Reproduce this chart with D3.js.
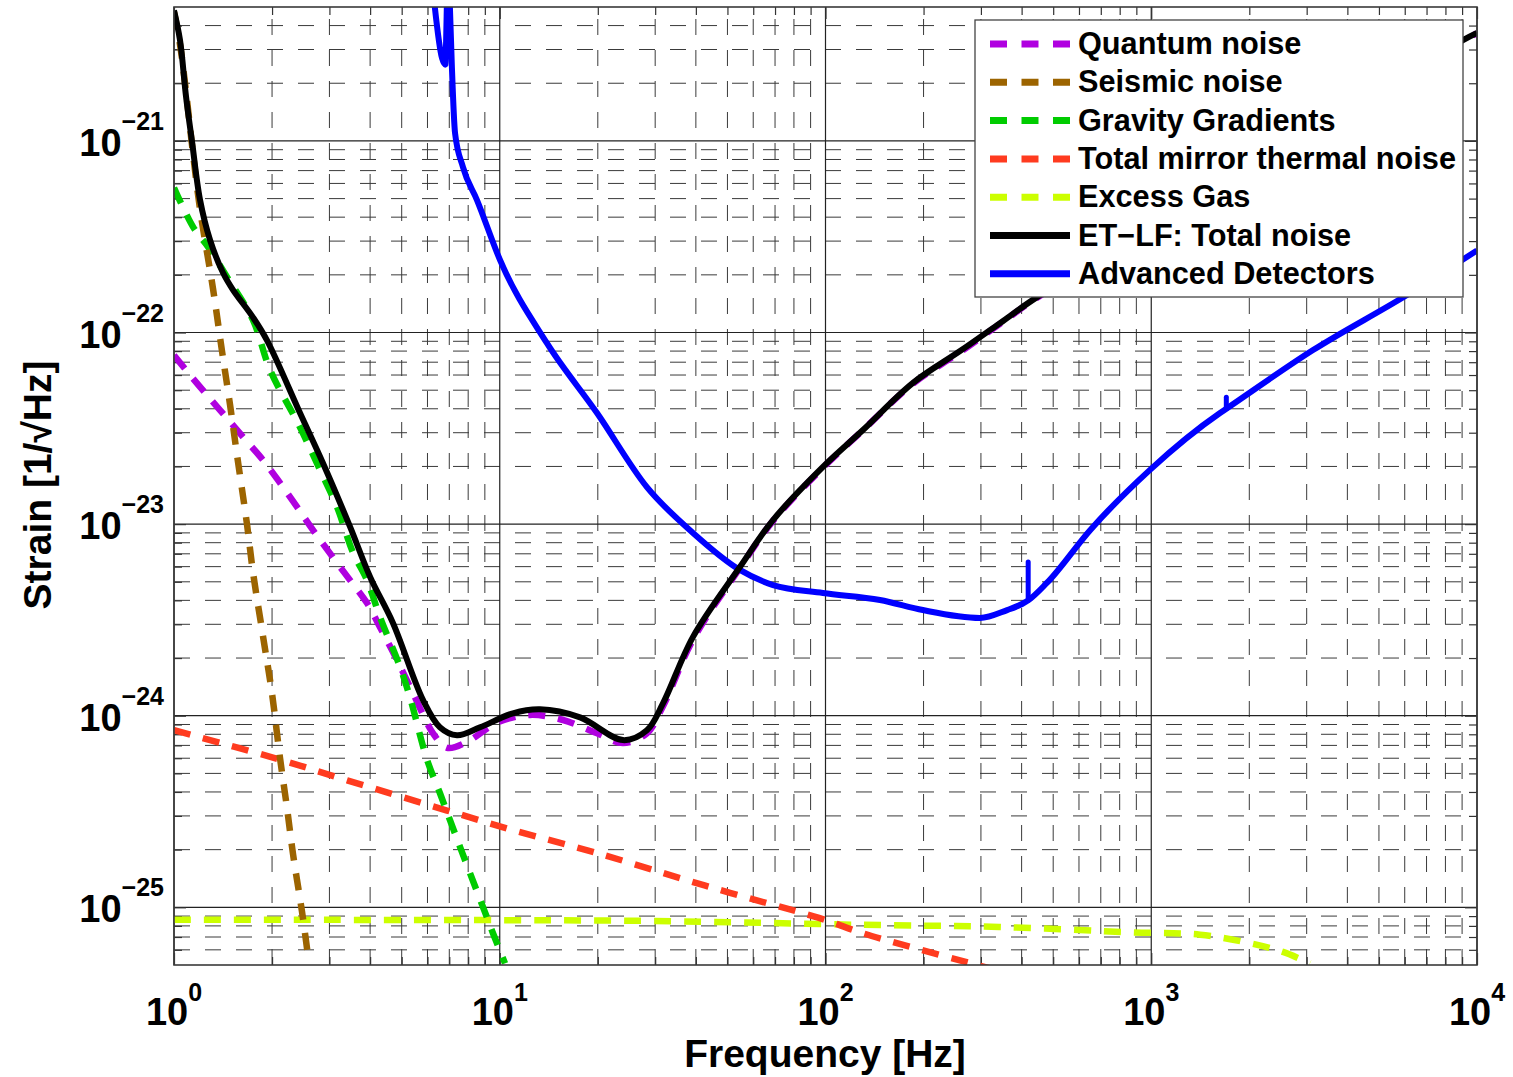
<!DOCTYPE html>
<html><head><meta charset="utf-8">
<script src="https://cdn.jsdelivr.net/npm/d3@7"></script>
<style>
body{margin:0;background:#fff}
svg{display:block}
text{font-family:"Liberation Sans",Arial,Helvetica,sans-serif;font-weight:bold;fill:#000}
</style>
</head><body>
<svg id="c" width="1513" height="1077"></svg>
<script>
// ---------------- DATA ----------------
const xTickValues = [1, 10, 100, 1000, 10000];
const xTickExp = ["0", "1", "2", "3", "4"];
const yTickValues = [1e-25, 1e-24, 1e-23, 1e-22, 1e-21];
const yTickExp = ["\u221225", "\u221224", "\u221223", "\u221222", "\u221221"];

const quantumF = [1.0,1.202,1.384,1.628,1.876,2.116,2.386,2.672,3.077,3.47,3.913,4.29,4.84,5.42,6.24,6.89,7.93,9.81,12.39,15.64,19.89,23.9,28.3,31.7,39.2,54.6,69,98.2,130,186,259,343,446,1000,3162,9060,10000];
const quantumH = [7.6e-23,5.2e-23,3.94e-23,2.85e-23,2.16e-23,1.64e-23,1.23e-23,9.3e-24,6.7e-24,5.1e-24,3.87e-24,2.9e-24,1.95e-24,1.31e-24,8.1e-25,6.8e-25,7.3e-25,9.2e-25,1.01e-24,9.5e-25,8.1e-25,7.2e-25,8.1e-25,1.12e-24,2.5e-24,5.9e-24,1.04e-23,1.97e-23,3.08e-23,5.43e-23,7.9e-23,1.11e-22,1.52e-22,3.5e-22,1.17e-21,3.34e-21,3.64e-21];

const seismicF = [1.0,1.043,1.089,1.136,1.202,1.317,1.404,1.486,1.561,1.675,1.748,1.876,2.0,2.116,2.223,2.319,2.471,2.578];
const seismicH = [4.7e-21,3.2e-21,1.8e-21,9.5e-22,4.4e-22,1.7e-22,8.0e-23,4.2e-23,2.3e-23,1.0e-23,5.6e-24,2.6e-24,1.3e-24,6.0e-25,3.3e-25,1.9e-25,9.5e-26,5.6e-26];

const gravityF = [1.0,1.144,1.272,1.454,1.748,1.971,2.437,2.806,3.165,3.544,3.913,4.29,4.94,5.30,5.98,6.55,7.03,7.55,8.10,8.89,9.54,10.38];
const gravityH = [5.7e-22,3.56e-22,2.8e-22,1.95e-22,1.16e-22,6.4e-23,3.2e-23,1.92e-23,1.23e-23,7.1e-24,5.1e-24,3.27e-24,1.8e-24,1.25e-24,5.9e-25,3.95e-25,2.86e-25,2.07e-25,1.51e-25,1.0e-25,7.3e-26,5.1e-26];

const thermalF = [1,2.116,3.40,6.89,10.98,19.89,35.8,50.9,95.5,131,320];
const thermalH = [8.4e-25,5.9e-25,4.6e-25,3.2e-25,2.53e-25,1.92e-25,1.42e-25,1.19e-25,8.8e-26,7.3e-26,4.8e-26];

const gasF = [1,27,131,341,879,1413,2010,2537,3070];
const gasH = [8.6e-26,8.5e-26,8.1e-26,7.9e-26,7.4e-26,7.2e-26,6.5e-26,5.85e-26,5.1e-26];

const totalF = [1.0,1.043,1.089,1.136,1.202,1.29,1.414,1.517,1.748,1.93,2.437,2.867,3.47,4.0,4.7,5.81,6.55,7.39,8.7,10.98,13.29,17.64,23.9,28.3,31.7,39.2,54.6,69,98.2,130.3,185.6,258.8,343.4,446,1000,3162,9060,10000];
const totalH = [4.8e-21,3.37e-21,1.7e-21,9.9e-22,4.92e-22,3.04e-22,2.05e-22,1.67e-22,1.2e-22,9.1e-23,3.8e-23,2.08e-23,9.7e-24,5.3e-24,3.05e-24,1.21e-24,8.7e-25,7.9e-25,8.7e-25,1.03e-24,1.08e-24,9.8e-25,7.46e-25,8.4e-25,1.16e-24,2.58e-24,5.97e-24,1.05e-23,1.99e-23,3.1e-23,5.46e-23,8.0e-23,1.12e-22,1.53e-22,3.5e-22,1.17e-21,3.36e-21,3.66e-21];

// Advanced detectors: smooth sensitivity curve (with the low-frequency resonance)
const advF = [6.24,6.65,6.80,6.94,7.03,7.13,7.29,7.71,8.52,10.02,13.96,19.89,28.3,39.2,54.6,69.0,98.2,147,199,298,361,401,419,478,649,991,1626,1700,3138,6095,10000];
const advH = [6.1e-21,2.7e-21,2.5e-21,8e-21,5e-21,2.43e-21,1.1e-21,7.3e-22,4.9e-22,2.39e-22,8.8e-23,3.8e-23,1.56e-23,9.0e-24,5.77e-24,4.81e-24,4.37e-24,4.02e-24,3.56e-24,3.24e-24,3.56e-24,3.83e-24,4.0e-24,4.93e-24,9.3e-24,1.92e-23,3.8e-23,4.0e-23,8.1e-23,1.57e-22,2.68e-22];
// narrow lines (violin-mode spikes) on the Advanced detector curve
const advSpikeF = [419, 1700];
const advSpikeBase = [4.0e-24, 4.0e-23];
const advSpikeTop = [6.34e-24, 4.6e-23];

const legendLabels = ["Quantum noise","Seismic noise","Gravity Gradients","Total mirror thermal noise","Excess Gas","ET\u2212LF: Total noise","Advanced Detectors"];

// ---------------- LAYOUT ----------------
const L = 174, R = 1477, T = 7, B = 965;
const svg = d3.select("#c");
const x = d3.scaleLog().domain([1, 1e4]).range([L, R]);
const y = d3.scaleLog().domain([5e-26, 5e-21]).range([B, T]);

const minorX = [];
for (let d = 0; d < 4; d++) for (let m = 2; m <= 9; m++) minorX.push(m * Math.pow(10, d));
const minorY = [];
for (let d = -26; d <= -21; d++) for (let m = 2; m <= 9; m++) {
  const v = m * Math.pow(10, d);
  if (v > 5.0001e-26 && v < 4.999e-21) minorY.push(v);
}

// grid
const grid = svg.append("g");
grid.selectAll(".vx").data(minorX).join("line")
  .attr("x1", d => x(d)).attr("x2", d => x(d)).attr("y1", B).attr("y2", T)
  .attr("stroke", "#3a3a3a").attr("stroke-width", 1).attr("stroke-dasharray", "16,15");
grid.selectAll(".hy").data(minorY).join("line")
  .attr("y1", d => y(d)).attr("y2", d => y(d)).attr("x1", L).attr("x2", R)
  .attr("stroke", "#3a3a3a").attr("stroke-width", 1).attr("stroke-dasharray", "16,15");
grid.selectAll(".mx").data(xTickValues).join("line")
  .attr("x1", d => x(d)).attr("x2", d => x(d)).attr("y1", B).attr("y2", T)
  .attr("stroke", "#222").attr("stroke-width", 1.2);
grid.selectAll(".my").data(yTickValues).join("line")
  .attr("y1", d => y(d)).attr("y2", d => y(d)).attr("x1", L).attr("x2", R)
  .attr("stroke", "#222").attr("stroke-width", 1.2);

// inward ticks via d3 axes
function ticks(axisGen, vals, len, tx, ty) {
  const g = svg.append("g").attr("transform", `translate(${tx},${ty})`)
    .call(axisGen.tickValues(vals).tickSize(-len).tickFormat(""));
  g.select(".domain").remove();
  g.selectAll("line").attr("stroke", "#333").attr("stroke-width", 1.2);
}
ticks(d3.axisBottom(x), minorX, 8, 0, B);
ticks(d3.axisTop(x), minorX, 8, 0, T);
ticks(d3.axisLeft(y), minorY, 8, L, 0);
ticks(d3.axisRight(y), minorY, 8, R, 0);
ticks(d3.axisBottom(x), xTickValues, 12, 0, B);
ticks(d3.axisTop(x), xTickValues, 12, 0, T);
ticks(d3.axisLeft(y), yTickValues, 12, L, 0);
ticks(d3.axisRight(y), yTickValues, 12, R, 0);

// curves
svg.append("defs").append("clipPath").attr("id", "clip")
  .append("rect").attr("x", L).attr("y", T).attr("width", R - L).attr("height", B - T);
const plot = svg.append("g").attr("clip-path", "url(#clip)");
const smooth = d3.line().x(d => x(d[0])).y(d => y(d[1])).curve(d3.curveCatmullRom.alpha(0.5));
const mono = d3.line().x(d => x(d[0])).y(d => y(d[1])).curve(d3.curveMonotoneX);
const zip = (a, b) => a.map((v, i) => [v, b[i]]);

const series = [
  {f: gasF, h: gasH, color: "#ccff00", dash: true, gen: smooth},
  {f: thermalF, h: thermalH, color: "#ff3b1f", dash: true, gen: smooth},
  {f: quantumF, h: quantumH, color: "#b000e0", dash: true, gen: smooth},
  {f: gravityF, h: gravityH, color: "#00cc00", dash: true, gen: smooth},
  {f: seismicF, h: seismicH, color: "#9c6400", dash: true, gen: smooth},
  {f: advF, h: advH, color: "#0000ff", dash: false, gen: mono},
  {f: totalF, h: totalH, color: "#000000", dash: false, gen: smooth}
];
series.forEach(s => {
  plot.append("path").datum(zip(s.f, s.h))
    .attr("d", s.gen).attr("fill", "none")
    .attr("stroke", s.color)
    .attr("stroke-width", s.dash ? 6.5 : 6)
    .attr("stroke-dasharray", s.dash ? "17,13" : null)
    .attr("stroke-linejoin", "round");
  if (s.color === "#0000ff") {
    plot.selectAll(".spike").data(advSpikeF).join("line")
      .attr("x1", d => x(d)).attr("x2", d => x(d))
      .attr("y1", (d, i) => y(advSpikeBase[i])).attr("y2", (d, i) => y(advSpikeTop[i]))
      .attr("stroke", "#0000ff").attr("stroke-width", 5).attr("stroke-linecap", "round");
  }
});

// frame
svg.append("rect").attr("x", L).attr("y", T).attr("width", R - L).attr("height", B - T)
  .attr("fill", "none").attr("stroke", "#3a3a3a").attr("stroke-width", 1.6);

// tick labels
xTickValues.forEach((v, i) => {
  const t = svg.append("text").attr("x", x(v)).attr("y", 1025)
    .attr("text-anchor", "middle").attr("font-size", 38);
  t.append("tspan").text("10");
  t.append("tspan").attr("dy", -24).attr("font-size", 25).text(xTickExp[i]);
});
yTickValues.forEach((v, i) => {
  const t = svg.append("text").attr("x", 164).attr("y", y(v) + 15)
    .attr("text-anchor", "end").attr("font-size", 38);
  t.append("tspan").text("10");
  t.append("tspan").attr("dy", -26).attr("font-size", 25).text(yTickExp[i]);
});

// axis titles
svg.append("text").attr("x", 825).attr("y", 1067).attr("text-anchor", "middle")
  .attr("font-size", 39).text("Frequency [Hz]");
svg.append("text").attr("transform", "translate(51,485) rotate(-90)")
  .attr("text-anchor", "middle").attr("font-size", 39).text("Strain [1/\u221AHz]");

// legend
const legendColors = ["#b000e0", "#9c6400", "#00cc00", "#ff3b1f", "#ccff00", "#000000", "#0000ff"];
const lg = svg.append("g");
lg.append("rect").attr("x", 975).attr("y", 20).attr("width", 488).attr("height", 277)
  .attr("fill", "#fff").attr("stroke", "#444").attr("stroke-width", 1.3);
legendLabels.forEach((lab, i) => {
  const yy = 44 + i * 38.3;
  const dashed = i < 5;
  lg.append("line").attr("x1", 990).attr("x2", 1070).attr("y1", yy).attr("y2", yy)
    .attr("stroke", legendColors[i]).attr("stroke-width", 7)
    .attr("stroke-dasharray", dashed ? "17,14.5" : null);
  lg.append("text").attr("x", 1078).attr("y", yy + 10).attr("font-size", 30.7).text(lab);
});
</script>
</body></html>
